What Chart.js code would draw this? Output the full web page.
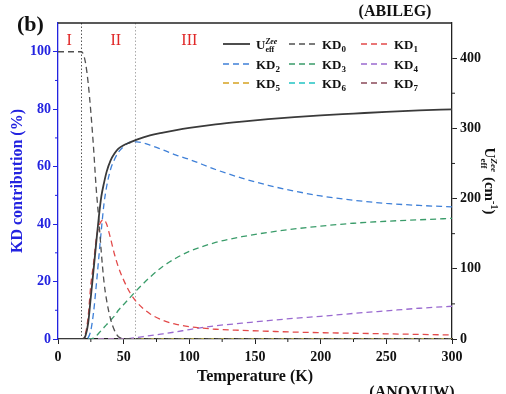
<!DOCTYPE html>
<html>
<head>
<meta charset="utf-8">
<script src="https://cdn.jsdelivr.net/npm/chart.js@4.4.0/dist/chart.umd.min.js"></script>
<style>
  html, body { margin: 0; padding: 0; background: #ffffff; }
  #wrap { width: 506px; height: 394px; }
</style>
</head>
<body>
<div id="wrap"><canvas id="kdChart" width="506" height="394"></canvas></div>
<script>
// Temperatur (K)
const temps = [0, 10, 17.5, 19, 21, 23, 25, 27, 29, 31, 33, 35, 37, 40, 43, 46, 50, 55, 60, 70, 80, 90, 100, 120, 140, 160, 180, 200, 225, 250, 275, 300];

// Ueff (cm-1), rechte Achse
const ueff = [0, 0, 0, 0, 5, 23, 60, 97, 135, 172, 203, 222, 238, 254, 264, 271, 276, 280, 284, 290, 294, 297.5, 300.5, 305.5, 309.5, 313, 316, 318.5, 321, 323.5, 325.5, 327];

// KD Anteile (%)
const kd0 = [100, 100, 100, 99.5, 96, 89, 79, 67, 53, 42, 30, 20, 13.5, 7, 3, 0.8, 0.2, 0.1, 0, 0, 0, 0, 0, 0, 0, 0, 0, 0, 0, 0, 0, 0];
const kd1 = [0, 0, 0, 0.2, 2, 8, 19, 26, 34.5, 39, 41, 41.5, 40, 35, 29.5, 25, 20.5, 16, 12.8, 8.8, 6.5, 5.1, 4.3, 3.4, 3, 2.7, 2.4, 2.2, 2, 1.8, 1.6, 1.4];
const kd2 = [0, 0, 0, 0, 0, 0.5, 3, 9, 18, 28, 38, 47, 53, 59, 62.5, 65, 67, 68.5, 68.6, 67.5, 65.8, 64, 62.5, 59, 56, 53.5, 51.5, 49.8, 48.3, 47.2, 46.5, 46];
const kd3 = [0, 0, 0, 0, 0, 0, 0, 0.3, 1, 2, 3, 4, 5, 6.6, 8, 10, 12, 14.5, 17, 21.5, 25.3, 28.2, 30.5, 33.6, 35.6, 37.1, 38.3, 39.3, 40.3, 41, 41.5, 42];
const kd4 = [0, 0, 0, 0, 0, 0, 0, 0, 0, 0, 0, 0, 0, 0, 0, 0, 0, 0.2, 0.5, 1.2, 1.8, 2.5, 3.3, 4.6, 5.5, 6.4, 7.2, 7.9, 8.9, 9.8, 10.7, 11.4];
const kd5 = [0, 0, 0, 0, 0, 0, 0, 0, 0, 0, 0, 0, 0, 0, 0, 0, 0, 0, 0, 0, 0, 0, 0, 0, 0, 0, 0, 0, 0, 0, 0, 0];
const kd6 = [0, 0, 0, 0, 0, 0, 0, 0, 0, 0, 0, 0, 0, 0, 0, 0, 0, 0, 0, 0, 0, 0, 0, 0, 0, 0, 0, 0, 0, 0, 0, 0];
const kd7 = [0, 0, 0, 0, 0, 0, 0, 0, 0, 0, 0, 0, 0, 0, 0, 0, 0, 0, 0, 0, 0, 0, 0, 0, 0, 0, 0, 0, 0, 0, 0, 0];

const xTicks = [0, 50, 100, 150, 200, 250, 300];
const regionNames = ['I', 'II', 'III'];
const regionBounds = [17.5, 58.5];

const SERIF = '"Liberation Serif", "Times New Roman", serif';
const BLUE = '#2323e0';

function pts(vals) {
  return temps.map((t, i) => ({ x: t, y: vals[i] }));
}

function kdSet(label, vals, color) {
  return {
    label: label,
    data: pts(vals),
    borderColor: color,
    borderWidth: 1.3,
    borderDash: [6, 4],
    pointRadius: 0,
    cubicInterpolationMode: 'monotone',
    yAxisID: 'y',
  };
}

const datasets = [
  {
    label: 'Ueff',
    data: pts(ueff),
    borderColor: '#3a3a3a',
    borderWidth: 1.8,
    pointRadius: 0,
    cubicInterpolationMode: 'monotone',
    yAxisID: 'y2',
  },
  kdSet('KD0', kd0, '#505050'),
  kdSet('KD1', kd1, '#e24a4a'),
  kdSet('KD2', kd2, '#3f80d8'),
  kdSet('KD3', kd3, '#3a9c6a'),
  kdSet('KD4', kd4, '#9a6ad0'),
  kdSet('KD5', kd5, '#d6a322'),
  kdSet('KD6', kd6, '#22c4c4'),
  kdSet('KD7', kd7, '#8a4a5a'),
];

// Text mit Hoch-/Tiefstellung
function richText(ctx, parts, x, y) {
  let cx = x;
  parts.forEach(p => {
    ctx.font = (p.italic ? 'italic ' : '') + 'bold ' + p.size + 'px ' + SERIF;
    ctx.fillText(p.t, cx, y + (p.dy || 0));
    cx += ctx.measureText(p.t).width;
  });
  return cx - x;
}

function richWidth(ctx, parts) {
  let w = 0;
  parts.forEach(p => {
    ctx.font = (p.italic ? 'italic ' : '') + 'bold ' + p.size + 'px ' + SERIF;
    w += ctx.measureText(p.t).width;
  });
  return w;
}

// Ueff mit eff tief und Zee hoch (übereinander)
function ueffLabel(ctx, x, y, size) {
  ctx.font = 'bold ' + size + 'px ' + SERIF;
  ctx.fillText('U', x, y);
  const w = ctx.measureText('U').width;
  const small = Math.round(size * 0.62);
  ctx.font = 'italic bold ' + small + 'px ' + SERIF;
  ctx.fillText('Zee', x + w, y - size * 0.38);
  const wz = ctx.measureText('Zee').width;
  ctx.font = 'bold ' + small + 'px ' + SERIF;
  ctx.fillText('eff', x + w, y + size * 0.25);
  return w + Math.max(wz, ctx.measureText('eff').width);
}

const overlay = {
  id: 'overlay',
  beforeDatasetsDraw(chart) {
    const { ctx, chartArea, scales } = chart;
    ctx.save();
    ctx.lineWidth = 1;
    ctx.setLineDash([1.5, 2]);
    regionBounds.forEach((t, i) => {
      const px = Math.round(scales.x.getPixelForValue(t)) + 0.5;
      ctx.strokeStyle = i === 0 ? '#555555' : '#aaaaaa';
      ctx.beginPath();
      ctx.moveTo(px, chartArea.top);
      ctx.lineTo(px, chartArea.bottom);
      ctx.stroke();
    });
    ctx.restore();
  },
  afterDraw(chart) {
    const { ctx, chartArea, scales } = chart;
    ctx.save();

    // obere Rahmenlinie
    ctx.strokeStyle = '#222222';
    ctx.lineWidth = 1.3;
    ctx.beginPath();
    ctx.moveTo(chartArea.left, chartArea.top);
    ctx.lineTo(chartArea.right, chartArea.top);
    ctx.stroke();

    // Nebenstriche
    ctx.lineWidth = 1;
    ctx.strokeStyle = '#222222';
    for (let v = 25; v < 300; v += 50) {
      const px = scales.x.getPixelForValue(v);
      ctx.beginPath();
      ctx.moveTo(px, chartArea.bottom);
      ctx.lineTo(px, chartArea.bottom + 3);
      ctx.stroke();
    }
    for (let v = 50; v < 450; v += 100) {
      const py = scales.y2.getPixelForValue(v);
      ctx.beginPath();
      ctx.moveTo(chartArea.right, py);
      ctx.lineTo(chartArea.right + 3, py);
      ctx.stroke();
    }
    ctx.strokeStyle = BLUE;
    for (let v = 10; v < 110; v += 20) {
      const py = scales.y.getPixelForValue(v);
      ctx.beginPath();
      ctx.moveTo(chartArea.left, py);
      ctx.lineTo(chartArea.left - 3, py);
      ctx.stroke();
    }

    // Bereichsnamen I, II, III
    ctx.fillStyle = '#e02828';
    ctx.font = '16px ' + SERIF;
    ctx.textAlign = 'center';
    ctx.textBaseline = 'middle';
    const regionPos = [8.5, 44, 100];
    regionNames.forEach((n, i) => {
      ctx.fillText(n, scales.x.getPixelForValue(regionPos[i]), chartArea.top + 18);
    });

    // Legende
    ctx.textAlign = 'left';
    ctx.textBaseline = 'alphabetic';
    const colX = [223, 289, 361];
    const rowY = [44, 64, 83];
    datasets.forEach((ds, i) => {
      const c = i % 3, r = Math.floor(i / 3);
      const x0 = colX[c], y0 = rowY[r];
      ctx.strokeStyle = ds.borderColor;
      ctx.lineWidth = ds.borderWidth;
      ctx.setLineDash(ds.borderDash || []);
      ctx.beginPath();
      ctx.moveTo(x0, y0);
      ctx.lineTo(x0 + 27, y0);
      ctx.stroke();
      ctx.setLineDash([]);
      ctx.fillStyle = '#111111';
      if (i === 0) {
        ueffLabel(ctx, x0 + 33, y0 + 5, 13);
      } else {
        richText(ctx, [
          { t: 'KD', size: 13 },
          { t: String(i - 1), size: 9, dy: 3 },
        ], x0 + 33, y0 + 5);
      }
    });

    // rechter Achsentitel, im Uhrzeigersinn gedreht
    const titleParts = [
      { t: '(cm', size: 15 },
      { t: '-1', size: 10, dy: -6 },
      { t: ')', size: 15 },
    ];
    ctx.save();
    ctx.fillStyle = '#111111';
    const cy = (chartArea.top + chartArea.bottom) / 2;
    ctx.translate(485, cy);
    ctx.rotate(Math.PI / 2);
    ctx.font = 'bold 15px ' + SERIF;
    const uW = ctx.measureText('U').width;
    ctx.font = 'italic bold 9px ' + SERIF;
    const subW = ctx.measureText('Zee').width;
    const total = uW + subW + 5 + richWidth(ctx, titleParts);
    let sx = -total / 2;
    const used = ueffLabel(ctx, sx, 0, 15);
    richText(ctx, titleParts, sx + used + 5, 0);
    ctx.restore();

    // Beschriftungen (b), (ABILEG), (ANOVUW)
    ctx.fillStyle = '#111111';
    ctx.textAlign = 'left';
    ctx.textBaseline = 'middle';
    ctx.font = 'bold 22px ' + SERIF;
    ctx.fillText('(b)', 17, 25);
    ctx.textAlign = 'center';
    ctx.font = 'bold 16px ' + SERIF;
    ctx.fillText('(ABILEG)', 395, 12);
    ctx.textBaseline = 'top';
    ctx.fillText('(ANOVUW)', 412, 385);

    ctx.restore();
  }
};

const tickFont = { family: SERIF, size: 14, weight: 'bold' };

const ctx = document.getElementById('kdChart').getContext('2d');
const kdChart = new Chart(ctx, {
  type: 'line',
  data: { datasets: datasets },
  options: {
    responsive: false,
    animation: false,
    layout: { padding: { top: 23, left: 0, right: 0, bottom: 0 } },
    plugins: {
      legend: { display: false },
      tooltip: { enabled: false },
    },
    scales: {
      x: {
        type: 'linear',
        min: 0,
        max: 300,
        afterBuildTicks: (s) => { s.ticks = xTicks.map(v => ({ value: v })); },
        afterFit: (s) => { s.height = 55; },
        ticks: { color: '#111111', font: tickFont, padding: 5, maxRotation: 0 },
        grid: { drawOnChartArea: false, tickLength: 5, tickColor: '#222222', tickWidth: 1 },
        border: { color: '#222222', width: 1.3 },
        title: {
          display: true,
          text: 'Temperature (K)',
          color: '#111111',
          font: { family: SERIF, size: 16, weight: 'bold' },
          padding: { top: 0, bottom: 8 },
        },
      },
      y: {
        position: 'left',
        min: 0,
        max: 110,
        afterFit: (s) => { s.width = 58; },
        ticks: { stepSize: 20, includeBounds: false, color: BLUE, font: tickFont, padding: 2 },
        grid: { drawOnChartArea: false, tickLength: 5, tickColor: BLUE, tickWidth: 1 },
        border: { color: BLUE, width: 1.3 },
        title: {
          display: true,
          text: 'KD contribution (%)',
          color: BLUE,
          font: { family: SERIF, size: 16, weight: 'bold' },
          padding: { top: 8, bottom: 0 },
        },
      },
      y2: {
        position: 'right',
        min: 0,
        max: 450,
        afterFit: (s) => { s.width = 54; },
        ticks: { stepSize: 100, includeBounds: false, color: '#111111', font: tickFont, padding: 3 },
        grid: { drawOnChartArea: false, tickLength: 5, tickColor: '#222222', tickWidth: 1 },
        border: { color: '#222222', width: 1.3 },
      },
    },
  },
  plugins: [overlay],
});
</script>
</body>
</html>
